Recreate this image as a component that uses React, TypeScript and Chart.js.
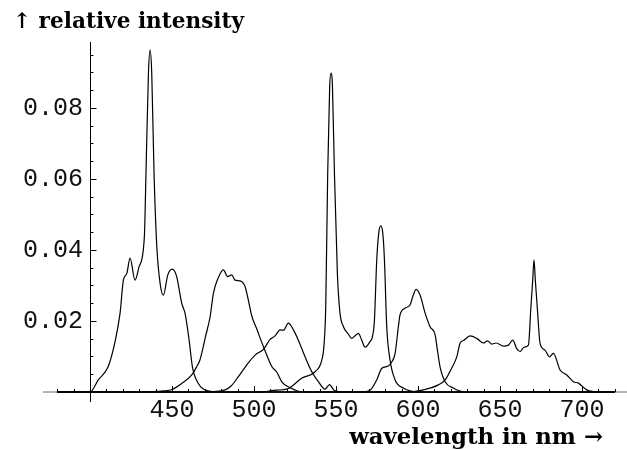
import React, { useEffect, useRef } from "react";
import { Chart, registerables } from "chart.js";
Chart.register(...registerables);

// Tick labels
const xTickLabels = [450, 500, 550, 600, 650, 700];
const yTickLabels = [0.02, 0.04, 0.06, 0.08];
const xTitle = "wavelength in nm \u2192";
const yTitle = "\u2191 relative intensity";

// Spectral curves: [wavelength (nm), relative intensity]
const curveViolet: [number, number][] = [
  [380, 0], [400, 0], [405, 0.0034], [411, 0.0071], [415, 0.0137], [418.3, 0.0222],
  [420.3, 0.0315], [422.4, 0.0334], [424.4, 0.0377], [427.4, 0.0315], [429.9, 0.0353],
  [433.1, 0.0437], [434.1, 0.0617], [435.6, 0.0899], [436.6, 0.0963], [437.6, 0.0899],
  [439.0, 0.0617], [440.7, 0.041], [442.7, 0.0306], [444.7, 0.0273], [447.4, 0.033],
  [450.2, 0.0346], [452.8, 0.0325], [455.9, 0.025], [457.9, 0.0222], [460.4, 0.0146],
  [462.4, 0.0071], [466, 0.0024], [472, 0.0003], [480, 0], [720, 0],
];
const curveBlue: [number, number][] = [
  [380, 0], [430, 0], [445, 0.0003], [450, 0.0007], [455.9, 0.0024], [462, 0.0048],
  [465, 0.0071], [467, 0.009], [470.6, 0.016], [473.2, 0.0212], [475.2, 0.0278],
  [478, 0.032], [481.3, 0.0344], [483.9, 0.0325], [486.4, 0.033], [488.4, 0.0315],
  [491.5, 0.0313], [494.5, 0.0297], [496.5, 0.0259], [498.6, 0.0214], [501.6, 0.0178],
  [505.7, 0.0128], [510.8, 0.0072], [514, 0.0055], [517, 0.0028], [522, 0.0012],
  [530, 0], [720, 0],
];
const curveCyan: [number, number][] = [
  [380, 0], [470, 0], [482.3, 0.0006], [486, 0.0017], [490.4, 0.0043], [495.5, 0.0076],
  [500.6, 0.0104], [505.7, 0.012], [509.8, 0.0148], [512.8, 0.0158], [515.9, 0.0175],
  [517.9, 0.0174], [520.9, 0.0194], [524, 0.0175], [527, 0.0146], [531.1, 0.0099],
  [535.2, 0.0057], [539.2, 0.0029], [543.3, 0.0008], [546, 0.0021], [549, 0.0004],
  [555, 0], [720, 0],
];
const curveGreen: [number, number][] = [
  [380, 0], [505, 0], [510.8, 0.0004], [521, 0.001], [529, 0.0039], [537.2, 0.0057],
  [541.3, 0.009], [542.6, 0.013], [543.7, 0.024], [544.9, 0.0617], [546.1, 0.086],
  [546.9, 0.0898], [547.8, 0.086], [549.0, 0.0617], [550.8, 0.0334], [552.4, 0.0222],
  [554.5, 0.0184], [557.5, 0.0163], [559.5, 0.0151], [561.5, 0.0158], [563.6, 0.0165],
  [565.5, 0.0148], [567.7, 0.0126], [570.7, 0.0142], [572.2, 0.0156], [573.4, 0.0203],
  [574.8, 0.0372], [576.0, 0.0447], [577.2, 0.0468], [578.5, 0.0447], [579.5, 0.0372],
  [580.9, 0.0184], [582.9, 0.009], [586, 0.0034], [591, 0.0011], [600, 0], [720, 0],
];
const curveOrange: [number, number][] = [
  [380, 0], [565, 0], [570.7, 0.0005], [574.8, 0.0034], [577.9, 0.0067], [581.9, 0.0073],
  [584, 0.0085], [586, 0.0109], [588, 0.0184], [589, 0.0217], [592, 0.0236],
  [595.1, 0.0245], [596.8, 0.0269], [598.8, 0.0289], [601.2, 0.0273], [604.3, 0.0222],
  [607.3, 0.0184], [610.4, 0.0161], [611.8, 0.0118], [613.4, 0.0071], [616.5, 0.0029],
  [621.5, 0.0011], [628, 0], [720, 0],
];
const curveRed: [number, number][] = [
  [380, 0], [595, 0], [607.3, 0.0011], [612.4, 0.002], [616.5, 0.0034], [620.5, 0.0067],
  [623.6, 0.0099], [625.6, 0.0137], [628, 0.0146], [631.7, 0.0158], [635.8, 0.0151],
  [639.8, 0.0138], [642.3, 0.0144], [644.9, 0.0135], [647.6, 0.0138], [652, 0.0129],
  [655.1, 0.0132], [657.7, 0.0146], [660.2, 0.0122], [662.2, 0.0114], [664.6, 0.0126],
  [667.3, 0.0132], [668.7, 0.0231], [669.9, 0.0315], [670.7, 0.0372], [671.5, 0.0315],
  [672.8, 0.0231], [674.4, 0.0137], [677.4, 0.0118], [680.1, 0.0099], [682.5, 0.0109],
  [686.6, 0.0062], [690.7, 0.0048], [694.7, 0.0029], [697.8, 0.0025], [702.8, 0.0006],
  [711, 0], [720, 0],
];

const allCurves = [curveViolet, curveBlue, curveCyan, curveGreen, curveOrange, curveRed];

export default function App() {
  const ref = useRef<HTMLCanvasElement>(null);
  useEffect(() => {
    if (!ref.current) return;
    const axesPlugin = {
      id: "mmaAxes",
      beforeDatasetsDraw(chart: any) {
        const { ctx, chartArea } = chart;
        const xs = chart.scales.x;
        const ys = chart.scales.y;
        const x0 = Math.round(xs.getPixelForValue(400)) + 0.5;
        const y0 = Math.round(ys.getPixelForValue(0));
        ctx.save();
        ctx.lineWidth = 1;
        ctx.strokeStyle = "#666";
        ctx.beginPath();
        ctx.moveTo(chartArea.left, y0);
        ctx.lineTo(chartArea.right, y0);
        ctx.stroke();
        ctx.strokeStyle = "#000";
        ctx.beginPath();
        ctx.moveTo(x0, chartArea.top);
        ctx.lineTo(x0, chartArea.bottom);
        ctx.stroke();
        // x ticks (inward, upward)
        ctx.beginPath();
        for (let w = 380; w <= 720; w += 10) {
          const px = Math.round(xs.getPixelForValue(w)) + 0.5;
          const len = w % 50 === 0 ? 6 : 3;
          ctx.moveTo(px, y0);
          ctx.lineTo(px, y0 - len);
        }
        // y ticks (inward, rightward)
        for (let i = 1; i <= 19; i++) {
          const v = i * 0.005;
          const py = Math.round(ys.getPixelForValue(v)) + 0.5;
          const len = i % 4 === 0 ? 6 : 3;
          ctx.moveTo(x0, py);
          ctx.lineTo(x0 + len, py);
        }
        ctx.stroke();
        ctx.restore();
      },
      afterDraw(chart: any) {
        const { ctx } = chart;
        ctx.save();
        ctx.fillStyle = "#000";
        ctx.textBaseline = "alphabetic";
        ctx.font = 'bold 21.6px "DejaVu Serif"';
        ctx.textAlign = "left";
        ctx.fillText(yTitle, 13, 28);
        ctx.font = 'bold 22.8px "DejaVu Serif"';
        ctx.textAlign = "right";
        ctx.fillText(xTitle, 603, 444);
        ctx.restore();
      },
    };

    const chart = new Chart(ref.current, {
      type: "line",
      data: {
        datasets: allCurves.map((c) => ({
          data: c.map(([x, y]) => ({ x, y })),
          borderColor: "#000",
          borderWidth: 1.2,
          pointRadius: 0,
          fill: false,
          cubicInterpolationMode: "monotone" as const,
        })),
      },
      options: {
        animation: false,
        responsive: true,
        maintainAspectRatio: false,
        layout: { padding: { left: 43, right: 0, top: 42, bottom: 48 } },
        plugins: { legend: { display: false }, tooltip: { enabled: false }, title: { display: false } },
        scales: {
          x: {
            type: "linear",
            min: 371.3,
            max: 727.4,
            position: { y: 0 } as any,
            grid: { display: false, drawTicks: false },
            border: { display: false },
            afterBuildTicks: (s: any) => {
              s.ticks = xTickLabels.map((v) => ({ value: v }));
            },
            ticks: {
              autoSkip: false,
              maxRotation: 0,
              padding: 3,
              color: "#111",
              font: { family: '"Liberation Mono"', size: 25 },
              callback: (v: any) => String(v),
            },
          },
          y: {
            type: "linear",
            min: -0.00282,
            max: 0.09859,
            // labels are right-aligned at this position (7px left of the drawn axis at 400)
            position: { x: 395.7 } as any,
            grid: { display: false, drawTicks: false },
            border: { display: false },
            afterBuildTicks: (s: any) => {
              s.ticks = yTickLabels.map((v) => ({ value: v }));
            },
            ticks: {
              autoSkip: false,
              padding: 0,
              color: "#111",
              font: { family: '"Liberation Mono"', size: 25 },
              callback: (v: any) => Number(v).toFixed(2),
            },
          },
        },
      },
      plugins: [axesPlugin],
    });
    return () => chart.destroy();
  }, []);

  return (
    <div style={{ position: "absolute", left: 0, top: 0, width: 627, height: 450 }}>
      <canvas ref={ref} />
    </div>
  );
}
